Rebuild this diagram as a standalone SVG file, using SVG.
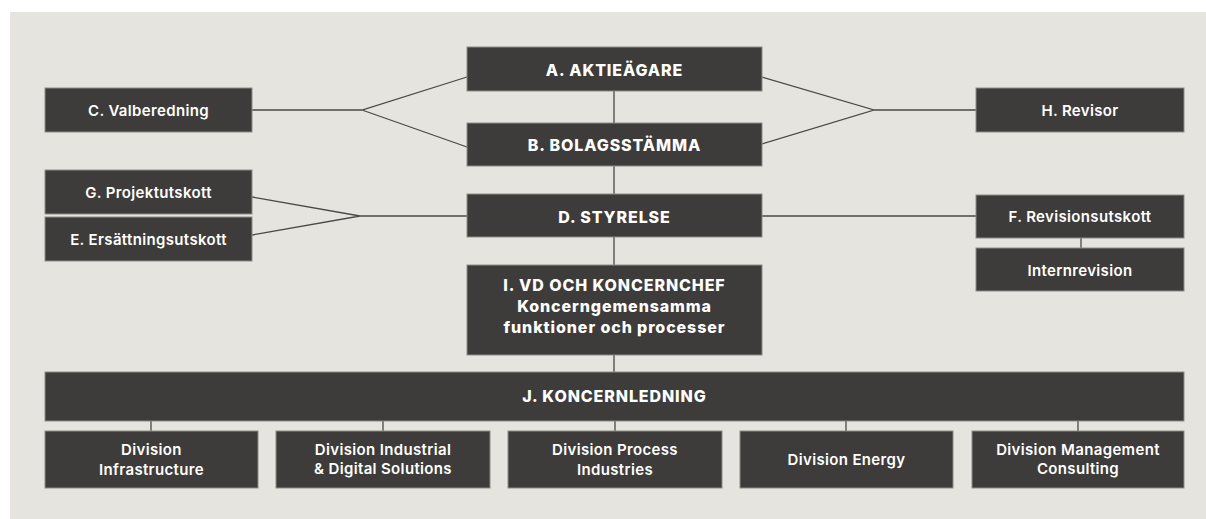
<svg xmlns="http://www.w3.org/2000/svg" width="1206" height="519" viewBox="0 0 1206 519">
<style>
.box{fill:#3d3c3a;stroke:#8c8b87;stroke-width:1}
.ln{stroke:#4a4946;stroke-width:1.3;fill:none}
.t{fill:#ffffff;font-family:Inter,"Liberation Sans",sans-serif;font-size:15px;font-weight:600;text-anchor:middle;letter-spacing:0.35px}
.b{fill:#ffffff;font-family:Inter,"Liberation Sans",sans-serif;font-size:16px;font-weight:800;text-anchor:middle;letter-spacing:0.9px}
</style>
<rect x="0" y="0" width="1206" height="519" fill="#ffffff"/>
<rect x="10" y="12" width="1196" height="507" fill="#e6e4df"/>
<g id="connectors">
<path class="ln" d="M252,110 H362 L467,77 M362,110 L467,147"/>
<path class="ln" d="M762,77 L874,110 L762,144 M874,110 H976"/>
<path class="ln" d="M252,197 L360,216 L252,235 M360,216 H467"/>
<path class="ln" d="M762,216 H976"/>
<path class="ln" d="M614,91 V123 M614,166 V194 M614,237 V265 M614,355 V372"/>
<path class="ln" d="M1081,238 V248"/>
<path class="ln" d="M151,421 V431 M383,421 V431 M615,421 V431 M846,421 V431 M1078,421 V431"/>
</g>
<g id="A"><rect class="box" x="467" y="47" width="295" height="44"/><text class="b" x="614.5" y="76">A. AKTIEÄGARE</text></g>
<g id="B"><rect class="box" x="467" y="123" width="295" height="43"/><text class="b" x="614.5" y="151">B. BOLAGSSTÄMMA</text></g>
<g id="D"><rect class="box" x="467" y="194" width="295" height="43"/><text class="b" x="614.5" y="223">D. STYRELSE</text></g>
<g id="I"><rect class="box" x="467" y="265" width="295" height="90"/>
<text class="b" x="614.5" y="291">I. VD OCH KONCERNCHEF</text>
<text class="b" x="614.5" y="312">Koncerngemensamma</text>
<text class="b" x="614.5" y="333">funktioner och processer</text></g>
<g id="C"><rect class="box" x="45" y="88" width="207" height="44"/><text class="t" x="148.5" y="116">C. Valberedning</text></g>
<g id="G"><rect class="box" x="45" y="170" width="207" height="44"/><text class="t" x="148.5" y="198">G. Projektutskott</text></g>
<g id="E"><rect class="box" x="45" y="217" width="207" height="44"/><text class="t" x="148.5" y="245">E. Ersättningsutskott</text></g>
<g id="H"><rect class="box" x="976" y="88" width="208" height="44"/><text class="t" x="1080" y="116">H. Revisor</text></g>
<g id="F"><rect class="box" x="976" y="195" width="208" height="43"/><text class="t" x="1080" y="222">F. Revisionsutskott</text></g>
<g id="Internrevision"><rect class="box" x="976" y="248" width="208" height="43"/><text class="t" x="1080" y="276">Internrevision</text></g>
<g id="J"><rect class="box" x="45" y="372" width="1139" height="49"/><text class="b" x="614.5" y="402">J. KONCERNLEDNING</text></g>
<g id="div1"><rect class="box" x="45" y="431" width="213" height="57"/><text class="t" x="151.5" y="455">Division</text><text class="t" x="151.5" y="475">Infrastructure</text></g>
<g id="div2"><rect class="box" x="276" y="431" width="214" height="57"/><text class="t" x="383" y="455">Division Industrial</text><text class="t" x="383" y="474">&amp; Digital Solutions</text></g>
<g id="div3"><rect class="box" x="508" y="431" width="214" height="57"/><text class="t" x="615" y="455">Division Process</text><text class="t" x="615" y="475">Industries</text></g>
<g id="div4"><rect class="box" x="740" y="431" width="213" height="57"/><text class="t" x="846.5" y="465">Division Energy</text></g>
<g id="div5"><rect class="box" x="972" y="431" width="212" height="57"/><text class="t" x="1078" y="455">Division Management</text><text class="t" x="1078" y="474">Consulting</text></g>
</svg>
